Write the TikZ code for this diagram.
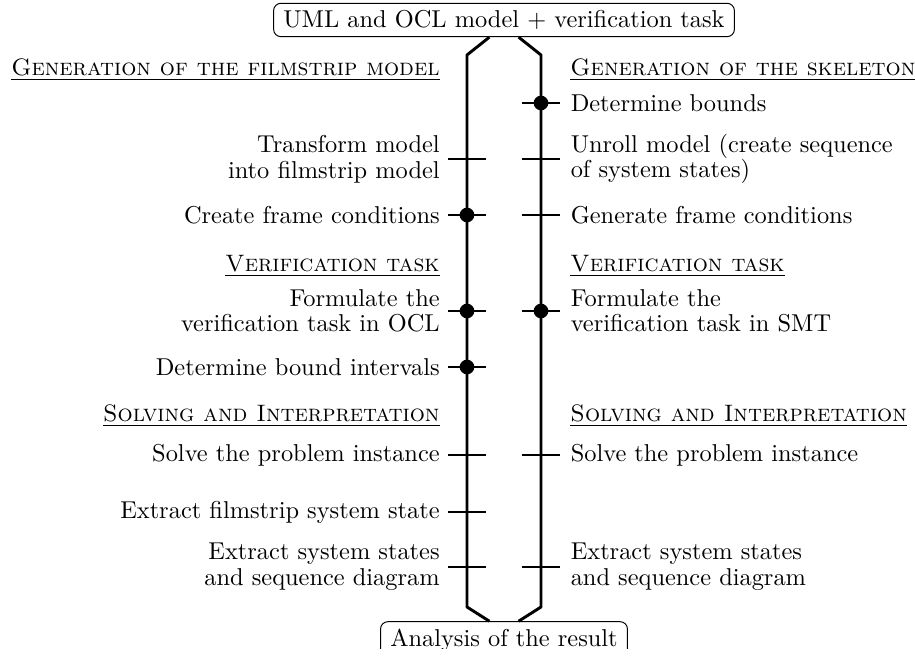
\documentclass[tikz,border=0pt]{standalone}
\usepackage{amsfonts,amssymb,amsmath}
\usepackage{xcolor}
\usetikzlibrary{positioning,calc}
\tikzstyle{endNode}   =[draw, rounded corners=3pt, inner xsep=4pt, inner ysep=2.9pt]
\tikzstyle{lane}      =[line width=1.2pt, line join=round]
\tikzstyle{stepTick}  =[line width=0.5pt]
\tikzstyle{milestone} =[circle, fill=black, inner sep=0pt, minimum size=6pt]
\tikzstyle{stepL}     =[anchor=east, inner sep=0pt, align=right, font=\fontsize{10}{10.5}\selectfont]
\tikzstyle{stepR}     =[anchor=west, inner sep=0pt, align=left, font=\fontsize{10}{10.5}\selectfont]
\tikzstyle{phaseL}    =[stepL, font=\fontsize{9.75}{10.5}\selectfont]
\tikzstyle{phaseR}    =[stepR, font=\fontsize{9.75}{10.5}\selectfont]
\newcommand{\phase}[1]{\underline{\textsc{#1}}}

\begin{document}
\begin{tikzpicture}[x=0.41pt, y=-0.41pt]
      \useasboundingbox (0,0) rectangle (915,658);
      \clip (0,0) rectangle (915,649);
      \node[endNode] (top) [] at (504,20) {UML and OCL model $+$ verification task};
      \node[endNode] (bot) [] at (504,640) {Analysis of the result};
      \coordinate (lTop) at (467,55);
      \coordinate (lBot) at (467,607);
      \coordinate (rTop) at (541,55);
      \coordinate (rBot) at (541,607);
      \draw[lane] ([xshift=-6pt]top.south) -- (lTop) -- (lBot) -- ([xshift=-6pt]bot.north);
      \draw[lane] ([xshift=6pt]top.south) -- (rTop) -- (rBot) -- ([xshift=6pt]bot.north);
      \node[phaseL] (phaseL1) [] at (440,70) {\phase{Generation of the filmstrip model}};
      \node[phaseR] (phaseR1) [] at (570,70) {\phase{Generation of the skeleton}};
      \node[phaseL] (phaseL2) [] at (440,266) {\phase{Verification task}};
      \node[phaseR] (phaseR2) [] at (570,266) {\phase{Verification task}};
      \node[phaseL] (phaseL3) [] at (440,416) {\phase{Solving and Interpretation}};
      \node[phaseR] (phaseR3) [] at (570,416) {\phase{Solving and Interpretation}};
      \coordinate (l1) at (467,159);
      \coordinate (l2) at (467,215);
      \coordinate (l3) at (467,311);
      \coordinate (l4) at (467,367);
      \coordinate (l5) at (467,455);
      \coordinate (l6) at (467,512);
      \coordinate (l7) at (467,567);
      \coordinate (r1) at (541,103);
      \coordinate (r2) at (541,159);
      \coordinate (r3) at (541,215);
      \coordinate (r4) at (541,311);
      \coordinate (r5) at (541,455);
      \coordinate (r6) at (541,567);
      \node[stepL] (transform) [left=11pt of l1] {Transform model\\into filmstrip model};
      \node[stepL] (frameL) [left=11pt of l2] {Create frame conditions};
      \node[stepL] (taskOCL) [left=11pt of l3] {Formulate the\\verification task in OCL};
      \node[stepL] (intervals) [left=11pt of l4] {Determine bound intervals};
      \node[stepL] (solveL) [left=11pt of l5] {Solve the problem instance};
      \node[stepL] (extractFS) [left=11pt of l6] {Extract filmstrip system state};
      \node[stepL] (extractL) [left=11pt of l7] {Extract system states\\and sequence diagram};
      \node[stepR] (bounds) [right=12pt of r1] {Determine bounds};
      \node[stepR] (unroll) [right=12pt of r2] {Unroll model (create sequence\\of system states)};
      \node[stepR] (frameR) [right=12pt of r3] {Generate frame conditions};
      \node[stepR] (taskSMT) [right=12pt of r4] {Formulate the\\verification task in SMT};
      \node[stepR] (solveR) [right=12pt of r5] {Solve the problem instance};
      \node[stepR] (extractR) [right=12pt of r6] {Extract system states\\and sequence diagram};
      \draw[stepTick] ([xshift=-7.6pt]l1) -- ([xshift=7.6pt]l1);
      \draw[stepTick] ([xshift=-7.6pt]l2) -- ([xshift=7.6pt]l2);
      \draw[stepTick] ([xshift=-7.6pt]l3) -- ([xshift=7.6pt]l3);
      \draw[stepTick] ([xshift=-7.6pt]l4) -- ([xshift=7.6pt]l4);
      \draw[stepTick] ([xshift=-7.6pt]l5) -- ([xshift=7.6pt]l5);
      \draw[stepTick] ([xshift=-7.6pt]l6) -- ([xshift=7.6pt]l6);
      \draw[stepTick] ([xshift=-7.6pt]l7) -- ([xshift=7.6pt]l7);
      \draw[stepTick] ([xshift=-7.6pt]r1) -- ([xshift=7.6pt]r1);
      \draw[stepTick] ([xshift=-7.6pt]r2) -- ([xshift=7.6pt]r2);
      \draw[stepTick] ([xshift=-7.6pt]r3) -- ([xshift=7.6pt]r3);
      \draw[stepTick] ([xshift=-7.6pt]r4) -- ([xshift=7.6pt]r4);
      \draw[stepTick] ([xshift=-7.6pt]r5) -- ([xshift=7.6pt]r5);
      \draw[stepTick] ([xshift=-7.6pt]r6) -- ([xshift=7.6pt]r6);
      \node[milestone] (m1) at (l2) {};
      \node[milestone] (m2) at (l3) {};
      \node[milestone] (m3) at (l4) {};
      \node[milestone] (m4) at (r1) {};
      \node[milestone] (m5) at (r4) {};
\end{tikzpicture}
\end{document}
